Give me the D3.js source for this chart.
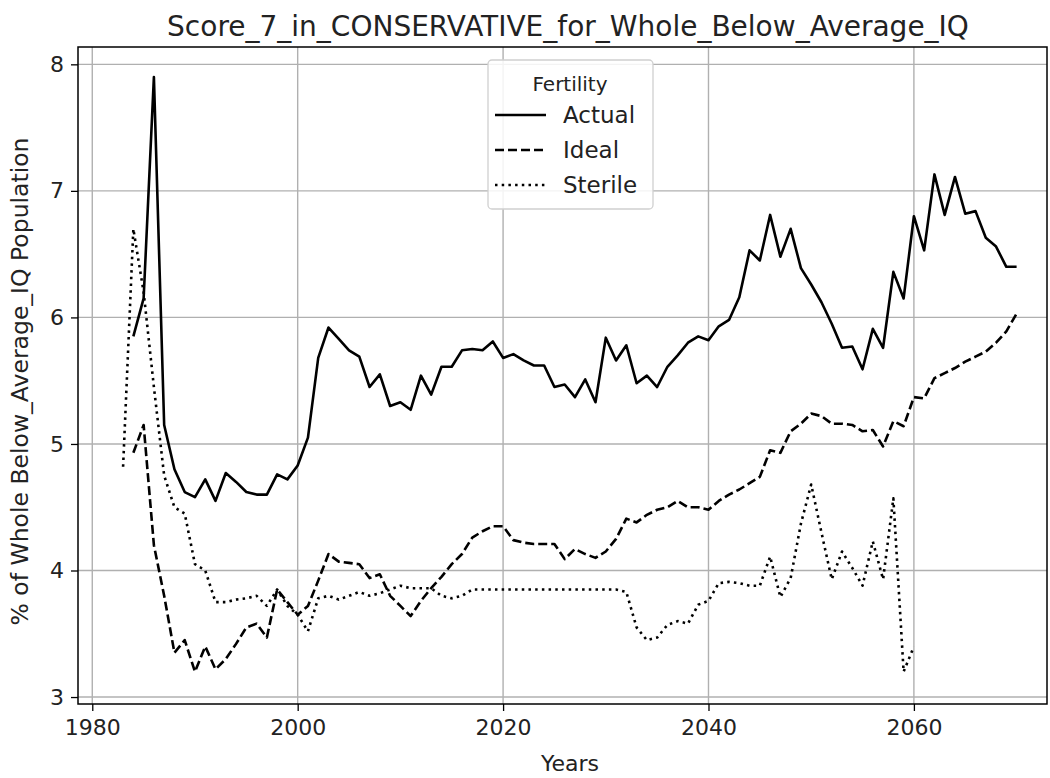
<!DOCTYPE html>
<html>
<head>
<meta charset="utf-8">
<script src="https://cdn.jsdelivr.net/npm/d3@7"></script>
<style>
  body { margin: 0; background: #fff; }
  svg { display: block; font-family: "DejaVu Sans", sans-serif; }
</style>
</head>
<body>
<svg id="chart" width="1050" height="778"></svg>
<script>
const title = "Score_7_in_CONSERVATIVE_for_Whole_Below_Average_IQ";
const xLabel = "Years";
const yLabel = "% of Whole Below_Average_IQ Population";
const legendTitle = "Fertility";
const seriesNames = ["Actual", "Ideal", "Sterile"];
const xTicks = [1980, 2000, 2020, 2040, 2060];
const yTicks = [3, 4, 5, 6, 7, 8];

const yearsMain = d3.range(1984, 2071);
const yearsSterile = d3.range(1983, 2061);

const actual = [
  5.85, 6.15, 7.9, 5.15, 4.8, 4.62, 4.58, 4.72, 4.55, 4.77,
  4.7, 4.62, 4.6, 4.6, 4.76, 4.72, 4.83, 5.05, 5.68, 5.92,
  5.83, 5.74, 5.69, 5.45, 5.55, 5.30, 5.33, 5.27, 5.54, 5.39,
  5.61, 5.61, 5.74, 5.75, 5.74, 5.81, 5.68, 5.71, 5.66, 5.62,
  5.62, 5.45, 5.47, 5.37, 5.51, 5.33, 5.84, 5.66, 5.78, 5.48,
  5.54, 5.45, 5.61, 5.70, 5.80, 5.85, 5.82, 5.93, 5.98, 6.16,
  6.53, 6.45, 6.81, 6.48, 6.70, 6.39, 6.26, 6.12, 5.95, 5.76,
  5.77, 5.59, 5.91, 5.76, 6.36, 6.15, 6.80, 6.53, 7.13, 6.81,
  7.11, 6.82, 6.84, 6.63, 6.56, 6.40, 6.40
];
const ideal = [
  4.93, 5.15, 4.2, 3.8, 3.35, 3.45, 3.2, 3.4, 3.22, 3.3,
  3.42, 3.55, 3.58, 3.47, 3.85, 3.75, 3.65, 3.72, 3.92, 4.13,
  4.07, 4.06, 4.05, 3.94, 3.97, 3.8, 3.72, 3.64, 3.76, 3.86,
  3.95, 4.05, 4.13, 4.26, 4.31, 4.35, 4.35, 4.24, 4.22, 4.21,
  4.21, 4.21, 4.09, 4.17, 4.13, 4.10, 4.15, 4.25, 4.41, 4.38,
  4.44, 4.48, 4.50, 4.55, 4.50, 4.50, 4.48, 4.55, 4.60, 4.64,
  4.69, 4.74, 4.95, 4.93, 5.10, 5.16, 5.24, 5.22, 5.16, 5.16,
  5.15, 5.10, 5.11, 4.98, 5.18, 5.14, 5.37, 5.36, 5.52, 5.56,
  5.60, 5.65, 5.69, 5.73, 5.80, 5.89, 6.03
];
const sterile = [
  4.82, 6.7, 6.2, 5.45, 4.75, 4.5, 4.45, 4.05, 4.0, 3.75,
  3.75, 3.77, 3.78, 3.8, 3.72, 3.85, 3.72, 3.65, 3.52, 3.78,
  3.8, 3.77, 3.8, 3.83, 3.8, 3.82, 3.85, 3.88, 3.86, 3.86,
  3.86, 3.8, 3.78, 3.8, 3.85, 3.85, 3.85, 3.85, 3.85, 3.85,
  3.85, 3.85, 3.85, 3.85, 3.85, 3.85, 3.85, 3.85, 3.85, 3.83,
  3.55, 3.45, 3.47, 3.57, 3.6, 3.58, 3.73, 3.76, 3.9, 3.91,
  3.9, 3.88, 3.88, 4.11, 3.79, 3.94, 4.37, 4.68, 4.3, 3.93,
  4.15, 4.02, 3.88, 4.23, 3.93, 4.57, 3.2, 3.4
];

const svg = d3.select("#chart");
const L = 78, R = 1047, T = 47, B = 704;
const x = d3.scaleLinear().domain([1978.61, 2072.96]).range([L, R]);
const y = d3.scaleLinear().domain([2.945, 8.137]).range([B, T]);

// grid
const grid = svg.append("g");
grid.selectAll("line.v").data(xTicks).join("line")
  .attr("x1", d => x(d)).attr("x2", d => x(d))
  .attr("y1", T).attr("y2", B)
  .attr("stroke", "#b0b0b0").attr("stroke-width", 1.4);
grid.selectAll("line.h").data(yTicks).join("line")
  .attr("x1", L).attr("x2", R)
  .attr("y1", d => y(d)).attr("y2", d => y(d))
  .attr("stroke", "#b0b0b0").attr("stroke-width", 1.4);

// axes
const xAxis = svg.append("g").attr("transform", `translate(0,${B})`)
  .call(d3.axisBottom(x).tickValues(xTicks).tickFormat(d3.format("d")).tickSize(7).tickPadding(8));
const yAxis = svg.append("g").attr("transform", `translate(${L},0)`)
  .call(d3.axisLeft(y).tickValues(yTicks).tickFormat(d3.format("d")).tickSize(7).tickPadding(7));
[xAxis, yAxis].forEach(a => {
  a.select(".domain").remove();
  a.selectAll(".tick line").attr("stroke", "#000").attr("stroke-width", 1.3);
  a.selectAll(".tick text").attr("fill", "#222").style("font-size", "22px")
    .style("font-family", "DejaVu Sans, sans-serif");
});

// frame
svg.append("rect").attr("x", L).attr("y", T).attr("width", R - L).attr("height", B - T)
  .attr("fill", "none").attr("stroke", "#000").attr("stroke-width", 1.5);

// lines
const line = d3.line().x(d => x(d[0])).y(d => y(d[1]));
const series = [
  { name: seriesNames[0], data: d3.zip(yearsMain, actual), dash: null },
  { name: seriesNames[1], data: d3.zip(yearsMain, ideal), dash: "9,4" },
  { name: seriesNames[2], data: d3.zip(yearsSterile, sterile), dash: "2.5,4.2" }
];
series.forEach(s => {
  svg.append("path").datum(s.data).attr("d", line)
    .attr("fill", "none").attr("stroke", "#000").attr("stroke-width", 2.6)
    .attr("stroke-linejoin", "round")
    .attr("stroke-dasharray", s.dash);
});

// title and labels
svg.append("text").attr("x", 568).attr("y", 36).attr("text-anchor", "middle")
  .style("font-size", "28px").attr("fill", "#222").text(title);
svg.append("text").attr("x", 570).attr("y", 771).attr("text-anchor", "middle")
  .style("font-size", "22px").attr("fill", "#222").text(xLabel);
svg.append("text").attr("transform", `translate(28,${(T + B) / 2 + 6}) rotate(-90)`)
  .attr("text-anchor", "middle").style("font-size", "23.5px").attr("fill", "#222").text(yLabel);

// legend
const lg = svg.append("g");
lg.append("rect").attr("x", 488).attr("y", 60).attr("width", 165).attr("height", 149)
  .attr("rx", 4).attr("fill", "#fff").attr("fill-opacity", 0.85)
  .attr("stroke", "#d0d0d0").attr("stroke-width", 1.3);
lg.append("text").attr("x", 570).attr("y", 91).attr("text-anchor", "middle")
  .style("font-size", "20px").attr("fill", "#222").text(legendTitle);
series.forEach((s, i) => {
  const yy = 115 + i * 35;
  lg.append("line").attr("x1", 495).attr("x2", 546).attr("y1", yy).attr("y2", yy)
    .attr("stroke", "#000").attr("stroke-width", 2.6).attr("stroke-dasharray", s.dash);
  lg.append("text").attr("x", 563).attr("y", yy + 8)
    .style("font-size", "23px").attr("fill", "#222").text(s.name);
});
</script>
</body>
</html>
